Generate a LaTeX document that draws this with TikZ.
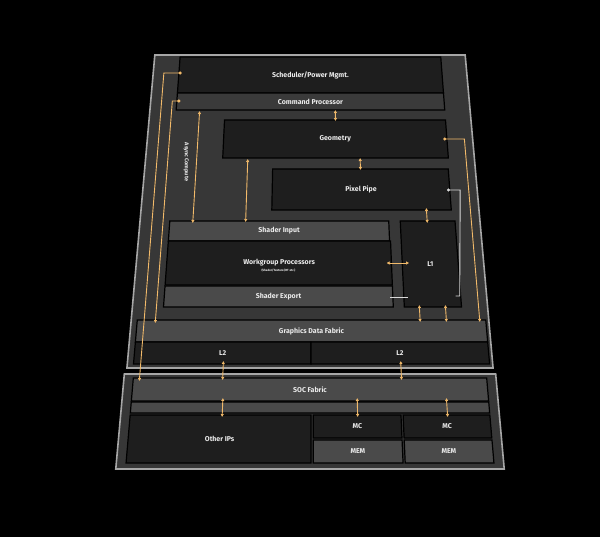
\documentclass[tikz,border=0pt]{standalone}
\usepackage{fontspec}
\setmainfont{Fira Sans}
\usetikzlibrary{arrows.meta}
\definecolor{org}{HTML}{F2BA6A}
\definecolor{bgr}{HTML}{373737}
\definecolor{drk}{HTML}{1E1E1E}
\definecolor{mid}{HTML}{3A3A3A}
\definecolor{lit}{HTML}{4A4A4A}
\newcommand\pq[2]{({310+((#1)-310)*(1+0.00051*((#2)-300))},{#2})}
\newcommand\bx[7]{\draw[#1] \pq{#2}{#3} -- \pq{#4}{#3} -- \pq{#4}{#5} -- \pq{#2}{#5} -- cycle;
  \node[lbl] (#6) at \pq{(#2+#4)/2}{(#3+#5)/2} {#7};}
\tikzset{
  lbl/.style={text=white!92!black,font=\bfseries\fontsize{7}{8}\selectfont,inner sep=0pt},
  dk/.style={fill=drk,draw=black,line width=1.2pt},
  md/.style={fill=mid,draw=black,line width=1.2pt},
  lt/.style={fill=lit,draw=black,line width=1.2pt},
  ar/.style={draw=org,line width=0.9pt,{Latex[length=3pt,width=3.5pt]}-{Latex[length=3pt,width=3.5pt]}},
  ard/.style={draw=org,line width=0.9pt,{Circle[length=3pt]}-{Latex[length=3pt,width=3.5pt]}},
  wl/.style={draw=white!85!black,line width=0.9pt},
}
\begin{document}
\begin{tikzpicture}[x=1pt,y=-1pt]
\fill[black] (0,0) rectangle (600,537);
\useasboundingbox (0,0) rectangle (600,537);
% GPU frame
\draw[fill=bgr,draw=gray!70,line width=1.6pt] \pq{133}{55} -- \pq{487}{55} -- \pq{487}{368} -- \pq{133}{368} -- cycle;
\bx{dk}{162}{57}{459}{93}{sch}{Scheduler/Power Mgmt.}
\bx{md}{162}{93}{459}{110}{cp}{Command Processor}
\bx{dk}{216}{120}{459}{158}{geo}{Geometry}
\bx{dk}{270}{169}{458}{210}{pp}{Pixel Pipe}
\bx{lt}{164}{221}{392}{241}{si}{Shader Input}
\bx{dk}{164}{241}{393}{285}{wgp}{\raisebox{3pt}{Workgroup Processors}}
\node[lbl,font=\bfseries\fontsize{3}{3}\selectfont] (wgps) at \pq{278}{270} {(Shader/Texture/RT etc.)};
\bx{lt}{164}{286}{393}{307}{se}{Shader Export}
\bx{dk}{404}{221}{461}{307}{l1}{L1}
\bx{lt}{139}{320}{484}{342}{gdf}{Graphics Data Fabric}
\bx{dk}{139}{342}{311}{364}{l2a}{L2}
\bx{dk}{311}{342}{484}{364}{l2b}{L2}
\node[lbl,rotate=-90,font=\bfseries\fontsize{5.5}{6}\selectfont] (async) at \pq{177}{162} {Async Compute};
% SOC frame
\draw[fill=bgr,draw=gray!70,line width=1.6pt] \pq{131}{374} -- \pq{489}{374} -- \pq{489}{469} -- \pq{131}{469} -- cycle;
\bx{lt}{140}{378}{480}{401}{soc}{SOC Fabric}
\bx{lt}{140}{402}{480}{413}{bar}{}
\bx{dk}{140}{415}{311}{463}{oip}{Other IPs}
\bx{dk}{313}{415}{396}{438}{mc1}{MC}
\bx{dk}{398}{415}{480}{438}{mc2}{MC}
\bx{lt}{313}{440}{396}{463}{mem1}{MEM}
\bx{lt}{398}{440}{480}{463}{mem2}{MEM}
% connectors
\draw[ard] \pq{165}{73} -- \pq{145}{73} -- \pq{146}{381};
\draw[ard] \pq{166}{101} -- \pq{157}{101} -- \pq{157}{323};
\draw[ar] \pq{188}{111} -- \pq{188}{223};
\draw[ar] \pq{338}{110} -- \pq{338}{121};
\draw[ar] \pq{243}{159} -- \pq{243}{222};
\draw[ar] \pq{364}{158} -- \pq{364}{170};
\draw[ard] \pq{455}{139} -- \pq{478}{139} -- \pq{478}{322};
\draw[wl,{Circle[length=3pt]}-] \pq{455}{190} -- \pq{469}{190} -- \pq{460}{296} -- \pq{456}{296};
\draw[wl] \pq{390}{297} -- \pq{408}{297};
\draw[ar] \pq{388}{263} -- \pq{411}{263};
\draw[ar] \pq{432}{208} -- \pq{432}{223};
\draw[ar] \pq{419}{305} -- \pq{419}{322};
\draw[ar] \pq{445}{305} -- \pq{445}{322};
\draw[ar] \pq{226}{361} -- \pq{226}{380};
\draw[ar] \pq{398}{361} -- \pq{398}{380};
\draw[ar] \pq{227}{398} -- \pq{227}{417};
\draw[ar] \pq{355}{398} -- \pq{355}{417};
\draw[ar] \pq{440}{398} -- \pq{440}{417};
\end{tikzpicture}
\end{document}
